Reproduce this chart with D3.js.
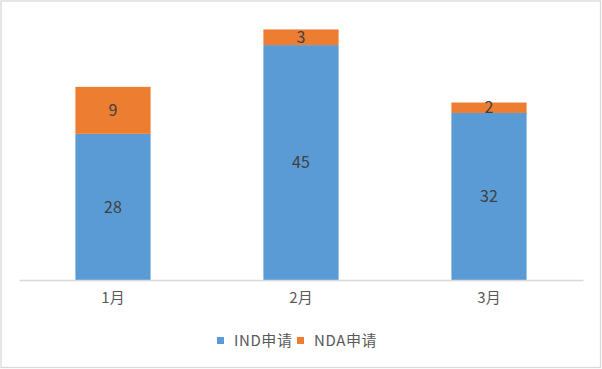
<!DOCTYPE html>
<html><head><meta charset="utf-8">
<script src="https://cdn.jsdelivr.net/npm/d3@7"></script>
<style>body{margin:0;background:#fff;}svg{display:block;font-family:"Noto Sans CJK SC","Noto Sans",sans-serif;}</style>
</head><body>
<script>
const categories = ["1月", "2月", "3月"];
const seriesNames = ["IND申请", "NDA申请"];
const indValues = [28, 45, 32];
const ndaValues = [9, 3, 2];
const colors = ["#5B9BD5", "#ED7D31"];

const W = 602, H = 369;
const svg = d3.select("body").append("svg").attr("width", W).attr("height", H);
svg.append("rect").attr("x", 1).attr("y", 1).attr("width", W - 2.5).attr("height", H - 2.5)
  .attr("fill", "#fff").attr("stroke", "#d9d9d9").attr("stroke-width", 1.3);

const x = d3.scaleBand().domain(categories).range([19, 583]).paddingInner(0.6).paddingOuter(0.3);
const y = d3.scaleLinear().domain([0, 50]).range([280, 19]);

const rows = categories.map((c, i) => ({cat: c, ind: indValues[i], nda: ndaValues[i]}));
const stack = d3.stack().keys(["ind", "nda"])(rows);

stack.forEach((layer, li) => {
  svg.append("g").selectAll("rect").data(layer).join("rect")
    .attr("x", d => x(d.data.cat)).attr("width", x.bandwidth())
    .attr("y", d => y(d[1])).attr("height", d => y(d[0]) - y(d[1]))
    .attr("fill", colors[li]);
  svg.append("g").selectAll("text").data(layer).join("text")
    .attr("x", d => x(d.data.cat) + x.bandwidth() / 2)
    .attr("y", d => (y(d[0]) + y(d[1])) / 2)
    .attr("dy", "0.35em").attr("text-anchor", "middle")
    .attr("font-size", 16).attr("fill", "#404040")
    .text(d => d[1] - d[0]);
});

const axis = svg.append("g").attr("transform", "translate(0,280)")
  .call(d3.axisBottom(x).tickSize(0).tickPadding(12));
axis.select(".domain").attr("stroke", "#d9d9d9").attr("stroke-width", 1.3);
axis.selectAll("text").attr("font-size", 15).attr("fill", "#595959")
  .attr("font-family", '"Noto Sans CJK SC","Noto Sans",sans-serif');

const legendX = [217, 297];
seriesNames.forEach((s, i) => {
  const g = svg.append("g").attr("transform", `translate(${legendX[i]},337)`);
  g.append("rect").attr("width", 7).attr("height", 7).attr("fill", colors[i]);
  g.append("text").attr("x", 17).attr("y", 3.5).attr("dy", "0.35em")
    .attr("font-size", 15).attr("letter-spacing", 0.6).attr("fill", "#595959").text(s);
});
</script>
</body></html>
